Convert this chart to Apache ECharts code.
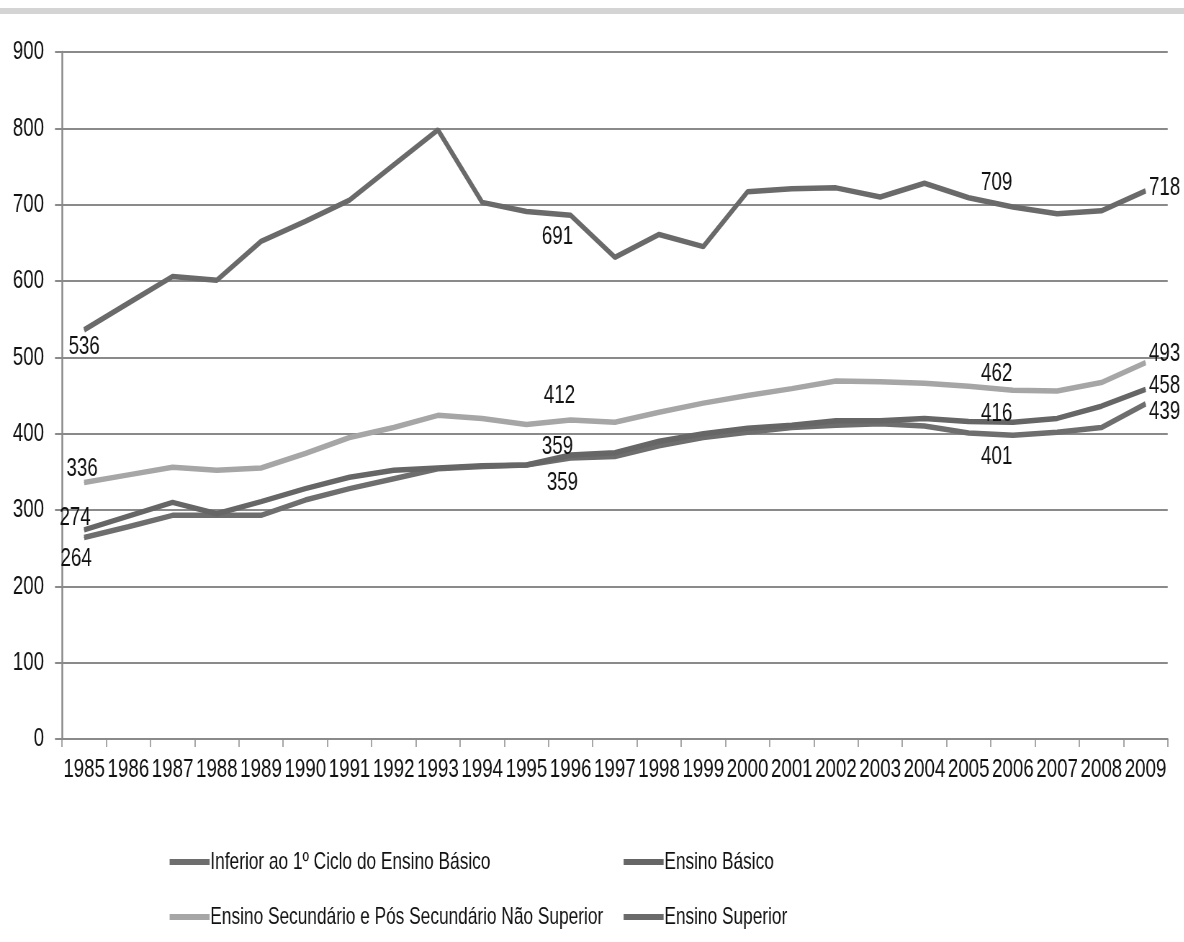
<!DOCTYPE html>
<html>
<head>
<meta charset="utf-8">
<script src="https://cdn.jsdelivr.net/npm/echarts@6/dist/echarts.min.js"></script>
<style>
  html, body { margin: 0; padding: 0; background: #fff; overflow: hidden; }
  #wrap { width: 1184px; height: 942px; overflow: hidden; }
  #chart { height: 942px; transform-origin: 0 0; }
</style>
</head>
<body>
<div id="wrap"><div id="chart"></div></div>
<script>
const years = ['1985','1986','1987','1988','1989','1990','1991','1992','1993','1994','1995','1996','1997',
  '1998','1999','2000','2001','2002','2003','2004','2005','2006','2007','2008','2009']

const inferior = [264, 278, 293, 293, 293, 313, 328, 341, 354, 357, 359, 368, 370,
  384, 395, 402, 408, 411, 413, 410, 401, 398, 402, 408, 439]
const basico = [274, 292, 310, 295, 311, 328, 343, 352, 355, 358, 359, 372, 375,
  390, 400, 407, 411, 417, 417, 420, 416, 415, 420, 436, 458]
const secundario = [336, 346, 356, 352, 355, 374, 395, 408, 424, 420, 412, 418, 415,
  428, 440, 450, 459, 469, 468, 466, 462, 457, 456, 467, 493]
const superior = [536, 571, 606, 601, 652, 678, 706, 752, 798, 703, 691, 686, 631,
  661, 645, 717, 721, 722, 710, 728, 709, 697, 688, 692, 718]

const seriesNames = [
  'Inferior ao 1º Ciclo do Ensino Básico',
  'Ensino Básico',
  'Ensino Secundário e Pós Secundário Não Superior',
  'Ensino Superior'
]

// o original tem letra estreita: desenha mais largo e comprime na horizontal
const S = 0.72
const W = 1184 / S
const sx = v => v / S

const FONT = '"Liberation Sans", Arial, sans-serif'

// pontos com rótulo e deslocamento do texto (px no ecrã)
const labelOffsets = {
  inferior:   { 0: [-8, 21], 10: [36, 18], 20: [28, 24], 24: [0, 8] },
  basico:     { 0: [-9, -12], 10: [31, -18], 20: [28, -8], 24: [0, -4] },
  secundario: { 0: [-2, -14], 10: [33, -29], 20: [28, -13], 24: [0, -9] },
  superior:   { 0: [0, 17], 10: [31, 25], 20: [28, -15], 24: [0, -3] }
}

function withLabels(values, offsets) {
  return values.map((v, i) => {
    const off = offsets[i]
    if (!off) return v
    const last = i === values.length - 1
    return {
      value: v,
      label: {
        show: true,
        position: last ? 'right' : 'inside',
        distance: sx(3),
        offset: [sx(off[0]), off[1]],
        color: '#111',
        fontFamily: FONT,
        fontSize: 26
      }
    }
  })
}

function makeSeries(name, values, offsets, color, z) {
  return {
    name: name,
    type: 'line',
    data: withLabels(values, offsets),
    symbol: 'circle',
    symbolSize: 1,
    z: z,
    lineStyle: { color: color, width: 5.5 },
    itemStyle: { color: color },
    emphasis: { disabled: true },
    animation: false
  }
}

const el = document.getElementById('chart')
el.style.width = W + 'px'
el.style.transform = 'scaleX(' + S + ')'
const chart = echarts.init(el)

const legendText = { color: '#111', fontFamily: FONT, fontSize: 24, padding: [0, 0, 0, -4] }

chart.setOption({
  backgroundColor: '#fff',
  animation: false,
  graphic: [{
    type: 'rect',
    shape: { x: 0, y: 8, width: W, height: 6 },
    style: { fill: '#d4d4d4' }
  }],
  grid: { left: sx(62), right: sx(16), top: 52, bottom: 203 },
  legend: [{
    left: sx(166),
    top: 845,
    orient: 'vertical',
    itemGap: 31,
    itemWidth: sx(40),
    itemHeight: 6,
    icon: 'rect',
    data: [seriesNames[0], seriesNames[2]],
    textStyle: legendText
  }, {
    left: sx(620),
    top: 845,
    orient: 'vertical',
    itemGap: 31,
    itemWidth: sx(40),
    itemHeight: 6,
    icon: 'rect',
    data: [seriesNames[1], seriesNames[3]],
    textStyle: legendText
  }],
  xAxis: {
    type: 'category',
    data: years,
    boundaryGap: true,
    axisLine: { lineStyle: { color: '#8a8a8a', width: 2 } },
    axisTick: { show: true, length: 8, lineStyle: { color: '#8a8a8a', width: 1.5 } },
    axisLabel: { interval: 0, margin: 18, color: '#111', fontFamily: FONT, fontSize: 26 }
  },
  yAxis: {
    type: 'value',
    min: 0,
    max: 900,
    interval: 100,
    axisLine: { show: true, lineStyle: { color: '#8a8a8a', width: 2.5 } },
    axisTick: { show: true, length: sx(7), lineStyle: { color: '#8a8a8a', width: 2 } },
    axisLabel: { margin: sx(18), color: '#111', fontFamily: FONT, fontSize: 26 },
    splitLine: { lineStyle: { color: '#8a8a8a', width: 2 } }
  },
  series: [
    makeSeries(seriesNames[0], inferior, labelOffsets.inferior, '#6e6e6e', 3),
    makeSeries(seriesNames[1], basico, labelOffsets.basico, '#666666', 4),
    makeSeries(seriesNames[2], secundario, labelOffsets.secundario, '#a6a6a6', 2),
    makeSeries(seriesNames[3], superior, labelOffsets.superior, '#6a6a6a', 5)
  ]
})
</script>
</body>
</html>
